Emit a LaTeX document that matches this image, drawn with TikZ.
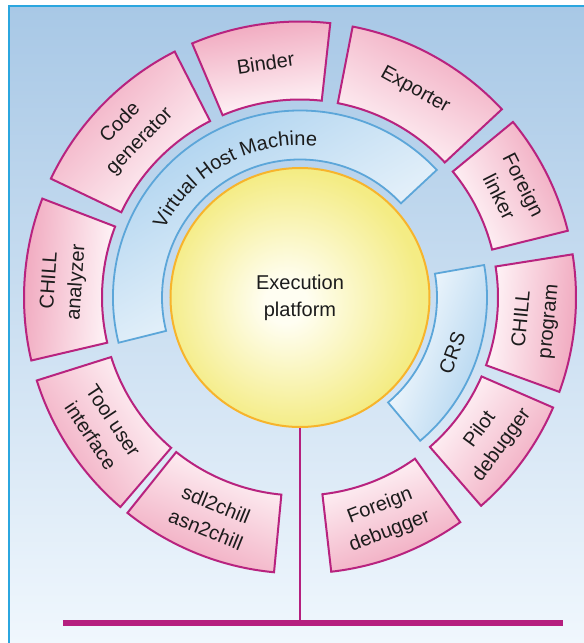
\documentclass[tikz,border=0pt]{standalone}
\usepackage{fontspec}
\setmainfont{Liberation Sans}
\usetikzlibrary{decorations.text}
\definecolor{framecyan}{HTML}{2BA6DF}
\definecolor{skytop}{HTML}{A8C8E6}
\definecolor{skybottom}{HTML}{F0F7FD}
\definecolor{ringmagenta}{HTML}{B8237F}
\definecolor{ringpink}{HTML}{F0A5BC}
\definecolor{ringwhite}{HTML}{FFF8FA}
\definecolor{layerline}{HTML}{5CA6D9}
\definecolor{layerblue}{HTML}{A9D0EE}
\definecolor{sunyellow}{HTML}{F4EC84}
\definecolor{sunlight}{HTML}{FFFEF2}
\definecolor{sunrim}{HTML}{F7B42C}
\definecolor{busmagenta}{HTML}{B51F7E}
\definecolor{inktext}{HTML}{1C1C1C}

\pgfdeclareradialshading{sunglow}{\pgfpoint{-3bp}{-1bp}}{color(0bp)=(sunlight); color(4bp)=(sunlight); color(25bp)=(sunyellow); color(50bp)=(sunyellow)}

\tikzset{
  ringbox/.style={draw=ringmagenta,line width=1pt,top color=ringpink,bottom color=ringwhite},
  ringlabel/.style={text=inktext,align=center,font=\fontsize{10}{13.5}\selectfont},
  layerband/.style={draw=layerline,line width=0.9pt,top color=layerblue,bottom color=white},
}

\begin{document}
\begin{tikzpicture}[x=0.5pt,y=0.5pt]
  \useasboundingbox (-300,-345.5) rectangle (284,297.5);
  \fill[white] (-300,-345.5) rectangle (284,297.5);
  % backdrop and frame
  \shade[top color=skytop,bottom color=skybottom] (-291,-345.5) rectangle (284,291.5);
  \draw[framecyan,line width=1.25pt] (-291,-345.5) -- (-291,291.5) -- (284,291.5);

  % tool ring
  \foreach \sa/\ea/\r/\nm/\txt in {
      231.3/264.6/-22/sdl/{sdl2chill\\asn2chill},
      197.5/229.4/-56.5/tui/{Tool user\\interface},
      159/193.2/86/analyzer/{CHILL\\analyzer},
      117/154.5/45.75/codegen/{Code\\generator},
      83.7/113/8.35/binder/{Binder},
      43/79/-29/exporter/{Exporter},
      14/39.5/-63.25/flinker/{Foreign\\linker},
      -20/9/84.5/program/{CHILL\\program},
      -49/-23.5/53.75/pilot/{Pilot\\debugger},
      -83.5/-54.5/21/fdebug/{Foreign\\debugger}}{
    \pgfmathsetmacro{\m}{(\sa+\ea)/2}
    \pgfmathsetmacro{\s}{\m-90}
    \shade[ringbox,shading angle=\s] (\sa:198) arc[start angle=\sa,end angle=\ea,radius=198]
      -- (\ea:276) arc[start angle=\ea,end angle=\sa,radius=276] -- cycle;
    \node[ringlabel,rotate=\r] (\nm) at (\m:237) {\txt};
  }

  % virtual host machine and CRS layers
  \shade[layerband,shading angle=30] (43:138) arc[start angle=43,end angle=194,radius=138]
    -- (194:187) arc[start angle=194,end angle=43,radius=187] -- cycle;
  \shade[layerband,shading angle=-110] (-50:137) arc[start angle=-50,end angle=10,radius=137]
    -- (10:187) arc[start angle=10,end angle=-50,radius=187] -- cycle;
  \path[decorate,decoration={text along path,text align=center,text color=inktext,
      text={|\fontsize{10}{12}\selectfont|Virtual Host Machine}}]
    (175:152) arc[start angle=175,end angle=62,radius=152];
  \node[ringlabel,rotate=70] (crs) at (-20:162) {CRS};

  % execution platform
  \node[circle,draw=sunrim,line width=1pt,shade,shading=sunglow,minimum size=129.5pt,
    inner sep=0pt,ringlabel] (exec) at (0,0) {Execution\\platform};

  % bus
  \coordinate (busL) at (-237,-325.5);
  \coordinate (busR) at (263,-325.5);
  \draw[busmagenta,line width=0.7pt] (exec.south) -- (exec.south |- busL);
  \draw[busmagenta,line width=2.75pt] (busL) -- (busR);
\end{tikzpicture}
\end{document}
